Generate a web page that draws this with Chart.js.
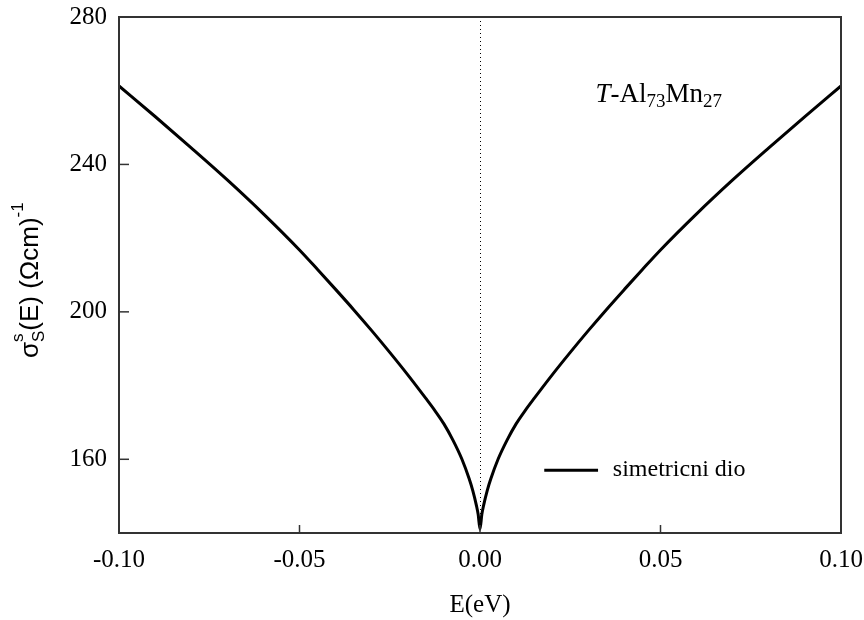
<!DOCTYPE html>
<html>
<head>
<meta charset="utf-8">
<script src="https://cdn.jsdelivr.net/npm/chart.js@4.4.1/dist/chart.umd.min.js"></script>
<style>
  html, body { margin: 0; padding: 0; background: #fff; }
  #wrap { width: 864px; height: 620px; }
</style>
</head>
<body>
<div id="wrap"><canvas id="sigma"></canvas></div>
<script>
// energy (eV) and symmetric conductivity part
const energy = [
  -0.10, -0.09, -0.08, -0.07, -0.06, -0.05, -0.045, -0.04, -0.035, -0.03,
  -0.025, -0.02, -0.015, -0.0125, -0.01, -0.0075, -0.005, -0.003, -0.002, -0.001, -0.0005,
  0,
  0.0005, 0.001, 0.002, 0.003, 0.005, 0.0075, 0.01, 0.0125, 0.015, 0.02,
  0.025, 0.03, 0.035, 0.04, 0.045, 0.05, 0.06, 0.07, 0.08, 0.09, 0.10
];
const sigmaSym = [
  261.3, 253.0, 244.5, 235.8, 226.6, 216.8, 211.5, 206.1, 200.6, 194.9,
  189.0, 182.9, 176.5, 173.2, 169.6, 165.2, 160.0, 154.7, 151.5, 147.5, 145,
  141,
  145, 147.5, 151.5, 154.7, 160.0, 165.2, 169.6, 173.2, 176.5, 182.9,
  189.0, 194.9, 200.6, 206.1, 211.5, 216.8, 226.6, 235.8, 244.5, 253.0, 261.3
];
const xTicks = [-0.10, -0.05, 0.00, 0.05, 0.10];
const yTicks = [160, 200, 240, 280];

const serif = "'Liberation Serif', 'Times New Roman', serif";
const sans = "'Liberation Sans', Arial, sans-serif";

const points = energy.map((e, i) => ({ x: e, y: sigmaSym[i] }));

const extras = {
  id: "extras",
  afterDraw(chart) {
    const ctx = chart.ctx;
    const a = chart.chartArea;
    const xs = chart.scales.x, ys = chart.scales.y;
    ctx.save();

    // dotted line at E = 0
    ctx.strokeStyle = "#000";
    ctx.lineWidth = 1;
    ctx.setLineDash([1, 3]);
    const x0 = Math.round(xs.getPixelForValue(0)) + 0.5;
    ctx.beginPath();
    ctx.moveTo(x0, a.top);
    ctx.lineTo(x0, a.bottom);
    ctx.stroke();
    ctx.setLineDash([]);

    // frame
    ctx.strokeStyle = "#333";
    ctx.lineWidth = 2;
    ctx.strokeRect(a.left, a.top, a.right - a.left, a.bottom - a.top);

    // inward ticks
    ctx.lineWidth = 1.5;
    xTicks.forEach(v => {
      const px = xs.getPixelForValue(v);
      ctx.beginPath();
      ctx.moveTo(px, a.bottom);
      ctx.lineTo(px, a.bottom - 8);
      ctx.stroke();
    });
    yTicks.forEach(v => {
      const py = ys.getPixelForValue(v);
      ctx.beginPath();
      ctx.moveTo(a.left, py);
      ctx.lineTo(a.left + 10, py);
      ctx.stroke();
    });

    // compound label T-Al73Mn27
    ctx.fillStyle = "#000";
    ctx.textBaseline = "alphabetic";
    ctx.textAlign = "left";
    let tx = xs.getPixelForValue(0.032);
    const ty = ys.getPixelForValue(257.0);
    const parts = [
      ["T", "italic 27px " + serif, 0],
      ["-Al", "27px " + serif, 0],
      ["73", "19px " + serif, 5],
      ["Mn", "27px " + serif, 0],
      ["27", "19px " + serif, 5]
    ];
    parts.forEach(p => {
      ctx.font = p[1];
      ctx.fillText(p[0], tx, ty + p[2]);
      tx += ctx.measureText(p[0]).width;
    });

    // legend inside the plot
    const ly = ys.getPixelForValue(157.0);
    ctx.strokeStyle = "#000";
    ctx.lineWidth = 3;
    ctx.beginPath();
    ctx.moveTo(xs.getPixelForValue(0.0178), ly);
    ctx.lineTo(xs.getPixelForValue(0.0327), ly);
    ctx.stroke();
    ctx.font = "24px " + serif;
    ctx.textBaseline = "middle";
    ctx.fillText("simetricni dio", xs.getPixelForValue(0.0368), ly - 1);

    // y axis title: sigma^s_S(E) (Ωcm)^-1
    ctx.translate(38, a.top + (a.bottom - a.top) * 0.51);
    ctx.rotate(-Math.PI / 2);
    ctx.textBaseline = "alphabetic";
    const yparts = [
      ["σ", "26px " + sans, 0],
      ["s", "17px " + sans, -15],
      ["S", "17px " + sans, 6],
      ["(E) (Ωcm)", "26px " + sans, 0],
      ["-1", "17px " + sans, -15]
    ];
    let w = 0;
    yparts.forEach((p, i) => {
      ctx.font = p[1];
      if (i !== 1) w += ctx.measureText(p[0]).width;
    });
    let cx = -w / 2;
    yparts.forEach((p, i) => {
      ctx.font = p[1];
      ctx.fillText(p[0], cx, p[2]);
      if (i !== 1) cx += ctx.measureText(p[0]).width;
    });
    ctx.restore();
  }
};

new Chart(document.getElementById("sigma"), {
  type: "line",
  data: {
    datasets: [
      {
        label: "simetricni dio",
        data: points,
        borderColor: "#000",
        borderWidth: 3,
        pointRadius: 0,
        cubicInterpolationMode: "monotone",
        fill: false
      }
    ]
  },
  options: {
    responsive: true,
    maintainAspectRatio: false,
    animation: false,
    layout: { padding: { top: 17, right: 23, left: 0, bottom: 0 } },
    plugins: {
      legend: { display: false },
      tooltip: { enabled: false }
    },
    scales: {
      x: {
        type: "linear",
        min: -0.10,
        max: 0.10,
        afterBuildTicks: s => { s.ticks = xTicks.map(v => ({ value: v })); },
        afterFit: s => {
          s.height = 87;
          s.paddingLeft = 0;
          s.paddingRight = 0;
        },
        grid: { display: false },
        border: { display: false },
        ticks: {
          padding: 4,
          color: "#000",
          font: { family: serif, size: 25 },
          maxRotation: 0,
          callback: v => v.toFixed(2)
        },
        title: {
          display: true,
          text: "E(eV)",
          color: "#000",
          font: { family: serif, size: 25 },
          padding: { top: 0, bottom: 0 }
        }
      },
      y: {
        min: 140,
        max: 280,
        afterBuildTicks: s => { s.ticks = yTicks.map(v => ({ value: v })); },
        afterFit: s => {
          s.width = 119;
          s.paddingTop = 0;
          s.paddingBottom = 0;
        },
        grid: { display: false },
        border: { display: false },
        ticks: {
          padding: 4,
          color: "#000",
          font: { family: serif, size: 25 }
        }
      }
    }
  },
  plugins: [extras]
});
</script>
</body>
</html>
